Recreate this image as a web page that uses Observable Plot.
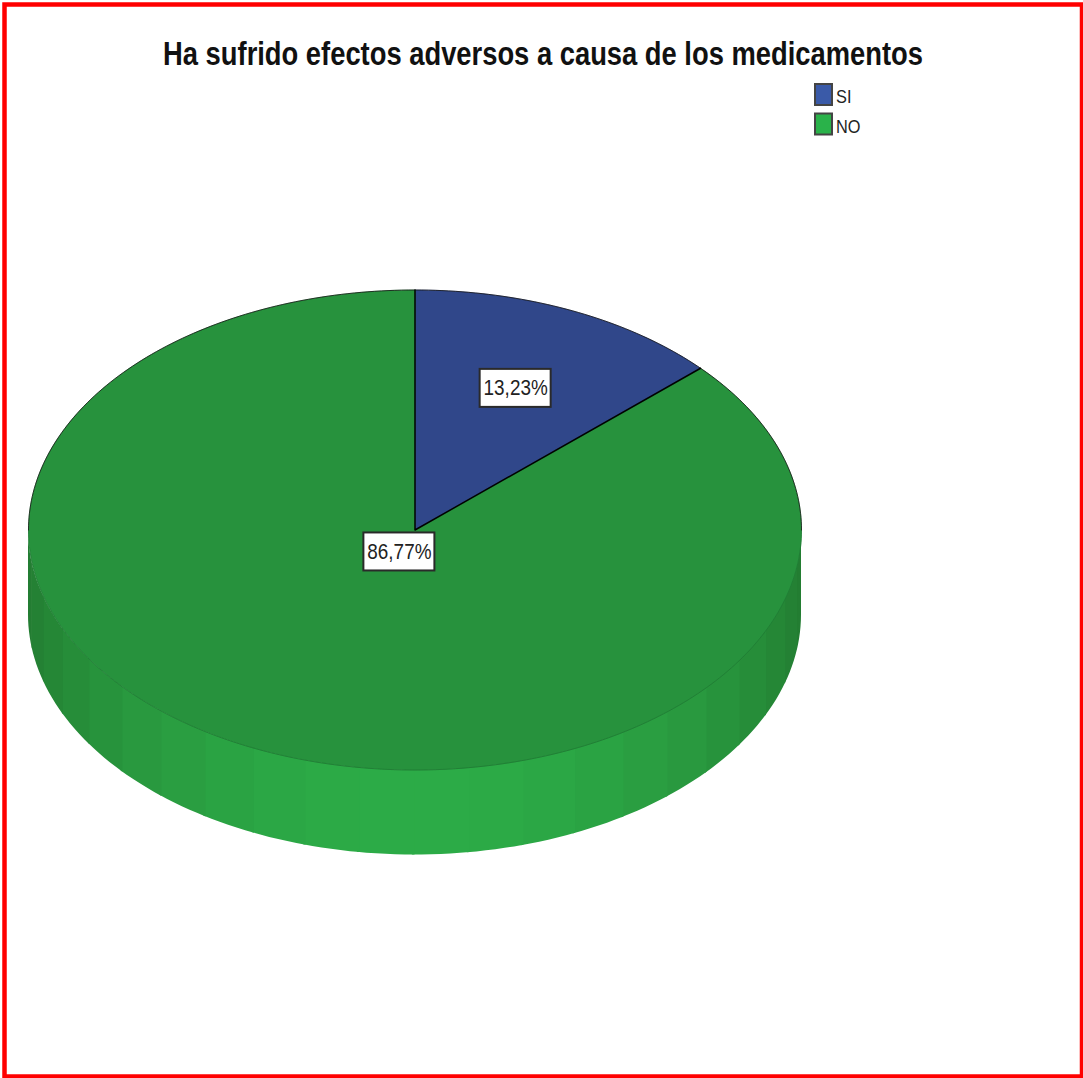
<!DOCTYPE html>
<html lang="es">
<head>
<meta charset="utf-8">
<title>Efectos adversos</title>
<script src="https://cdn.jsdelivr.net/npm/d3@7"></script>
<script src="https://cdn.jsdelivr.net/npm/@observablehq/plot@0.6"></script>
<style>
  html, body { margin: 0; background: #fff; }
  svg { display: block; }
</style>
</head>
<body>
<script>
// Chart content
const chartTitle = "Ha sufrido efectos adversos a causa de los medicamentos";
const categories = ["SI", "NO"];
const shares = [13.23, 86.77];

// Colours per category
const topColors = ["#30478a", "#27923d"];
const legendColors = ["#3a5aa8", "#2ab24a"];

// Disc geometry in the plot's coordinate system
const W = 1083, H = 1078;
const cx = 414.5, cy = 529.5, rx = 386.5, ry = 240, depth = 85;
const labelReach = [0.645, 0.1];
const facetDegrees = 8.2;

const rad = (d) => d * Math.PI / 180;
const fmt = (v) => v.toFixed(2).replace(".", ",") + "%";

// Point on the top rim, clockwise from twelve o'clock, k = fraction of the radius
const rim = (deg, k = 1) => ({
  x: cx + k * rx * Math.sin(rad(deg)),
  y: cy - k * ry * Math.cos(rad(deg))
});

// One closed outline per slice, built from the shares
let start = 0;
const slices = categories.map((name, i) => {
  const sweep = shares[i] / d3.sum(shares) * 360;
  const from = start;
  start += sweep;
  const pts = [rim(0, 0)];
  const n = Math.ceil(sweep);
  for (let j = 0; j <= n; j++) pts.push(rim(from + sweep * j / n));
  return { name, from, sweep, mid: from + sweep / 2, pts, fill: topColors[i] };
});

// Front wall of the disc: flat shaded facets, brightest facing the viewer.
// Each facet runs slightly under the next so no seam shows between them.
const wallShade = d3.interpolateRgb("#237c31", "#2cab47");
const wall = [];
const facetCount = Math.round(180 / facetDegrees);
for (let f = 0; f < facetCount; f++) {
  const a0 = 90 + f * 180 / facetCount;
  const a1 = Math.min(270, a0 + 180 / facetCount + 0.4);
  const midAngle = a0 + 90 / facetCount;
  const color = wallShade(Math.pow(Math.abs(Math.sin(rad(midAngle - 90))), 1.4));
  for (let j = 0; j <= 6; j++) {
    const p = rim(a0 + (a1 - a0) * j / 6);
    wall.push({ facet: f, x: p.x, y1: p.y, y2: p.y + depth, color });
  }
}

const upperRim = d3.range(-90, 91, 1).map((d) => rim(d));
const lowerRim = d3.range(90, 271, 1).map((d) => rim(d));

// Value labels sit on each slice's bisector
const boxW = 71, boxH = 38;
const labels = slices.map((s, i) => {
  const p = rim(s.mid, labelReach[i]);
  return { ...p, text: fmt(shares[i]) };
});

// Legend rows
const legendRows = categories.map((name, i) => ({
  name, color: legendColors[i], yc: 94.5 + i * 29.5
}));

const plot = Plot.plot({
  width: W,
  height: H,
  margin: 0,
  style: { background: "#fff" },
  x: { domain: [0, W], range: [0, W], axis: null },
  y: { domain: [0, H], range: [0, H], axis: null },
  color: { type: "identity" },
  marks: [
    // Wall
    Plot.areaY(wall, { x: "x", y1: "y1", y2: "y2", z: "facet", fill: "color" }),
    // Top face: fills first, then the two radii and the rim on top
    ...slices.map((s) => Plot.line(s.pts, {
      x: "x", y: "y", curve: "linear-closed", fill: s.fill, stroke: s.fill, strokeWidth: 0.5
    })),
    Plot.line(lowerRim, { x: "x", y: "y", stroke: "#1f7a33", strokeWidth: 0.8 }),
    Plot.line(upperRim, { x: "x", y: "y", stroke: "#111", strokeWidth: 0.8 }),
    ...slices.slice(0, 1).map((s) => Plot.line([s.pts[s.pts.length - 1], s.pts[0], s.pts[1]], {
      x: "x", y: "y", stroke: "#000", strokeWidth: 1.5
    })),
    // Value labels
    Plot.rect(labels, {
      x1: (d) => d.x - boxW / 2, x2: (d) => d.x + boxW / 2,
      y1: (d) => d.y - boxH / 2, y2: (d) => d.y + boxH / 2,
      fill: "#fff", stroke: "#2a2a2a", strokeWidth: 2
    }),
    Plot.text(labels, {
      x: "x", y: "y", text: "text", fontFamily: "Liberation Sans", fontSize: 22, fill: "#222",
      className: "narrow-label"
    }),
    // Title
    Plot.text([chartTitle], {
      x: () => 542.5, y: () => 54, text: (d) => d, fontFamily: "Liberation Sans", fontWeight: "bold",
      fontSize: 33, fill: "#111", className: "narrow-title"
    }),
    // Legend
    Plot.rect(legendRows, {
      x1: () => 815, x2: () => 832, y1: (d) => d.yc - 10.5, y2: (d) => d.yc + 10.5,
      fill: "color", stroke: "#444", strokeWidth: 2
    }),
    Plot.text(legendRows, {
      x: () => 835.5, y: (d) => d.yc + 2, text: "name", textAnchor: "start", fontFamily: "Liberation Sans",
      fontSize: 19, fill: "#222", className: "narrow-legend"
    }),
    // Outer border
    Plot.frame({ stroke: "#ff0000", strokeWidth: 4.5, insetLeft: 4, insetTop: 4, insetRight: 1.5, insetBottom: 2 })
  ]
});

// Horizontally condensed lettering used by the statistics package
const condense = { "narrow-title": 0.829, "narrow-label": 0.86, "narrow-legend": 0.86 };
for (const [cls, factor] of Object.entries(condense)) {
  plot.querySelectorAll(`.${cls} text`).forEach((t) => {
    t.setAttribute("transform", `${t.getAttribute("transform") || ""} scale(${factor} 1)`);
  });
}

document.body.appendChild(plot);
</script>
</body>
</html>
